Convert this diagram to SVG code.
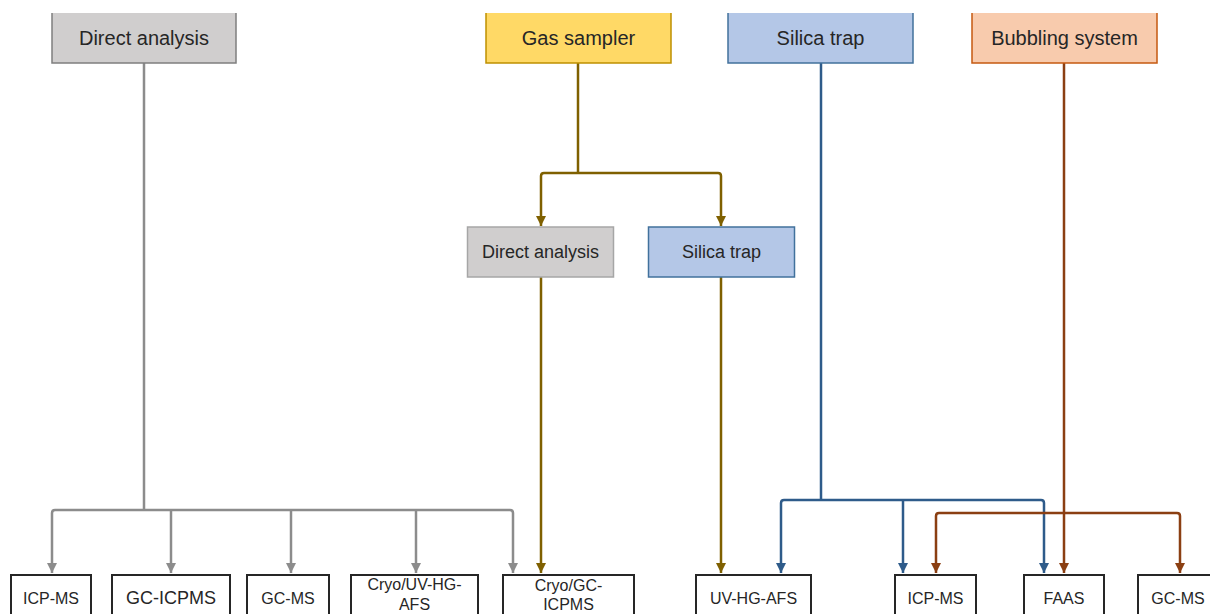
<svg xmlns="http://www.w3.org/2000/svg" width="1210" height="614" viewBox="0 0 1210 614">
<defs>
<style>
text{font-family:"Liberation Sans",Arial,sans-serif;fill:#262626;text-anchor:middle;dominant-baseline:central}
.t20{font-size:20px}.t18{font-size:18px}.t16{font-size:16px}
.c{fill:none;stroke-width:2.5;stroke-linejoin:round}
.gray{stroke:#8c8c8c}.gold{stroke:#7f6000}.blue{stroke:#2e5b8a}.brown{stroke:#8b3f12}
.out{fill:#fff;stroke:#262626;stroke-width:2}
</style>
<marker id="aGray" viewBox="0 0 10 10" refX="10" refY="5" markerWidth="10" markerHeight="11" markerUnits="userSpaceOnUse" orient="auto-start-reverse"><path d="M0,0L10,5L0,10z" fill="#8c8c8c"/></marker>
<marker id="aGold" viewBox="0 0 10 10" refX="10" refY="5" markerWidth="10" markerHeight="11" markerUnits="userSpaceOnUse" orient="auto-start-reverse"><path d="M0,0L10,5L0,10z" fill="#7f6000"/></marker>
<marker id="aBlue" viewBox="0 0 10 10" refX="10" refY="5" markerWidth="10" markerHeight="11" markerUnits="userSpaceOnUse" orient="auto-start-reverse"><path d="M0,0L10,5L0,10z" fill="#2e5b8a"/></marker>
<marker id="aBrown" viewBox="0 0 10 10" refX="10" refY="5" markerWidth="10" markerHeight="11" markerUnits="userSpaceOnUse" orient="auto-start-reverse"><path d="M0,0L10,5L0,10z" fill="#8b3f12"/></marker>
</defs>
<rect width="1210" height="614" fill="#fff"/>

<g id="connectors">
<path class="c gray" d="M144 63V510"/>
<path class="c gray" d="M52 573V513q0-3 3-3H510q3 0 3 3V573" marker-start="url(#aGray)" marker-end="url(#aGray)"/>
<path class="c gray" d="M171 510V573" marker-end="url(#aGray)"/>
<path class="c gray" d="M291 510V573" marker-end="url(#aGray)"/>
<path class="c gray" d="M416 510V573" marker-end="url(#aGray)"/>

<path class="c gold" d="M578 63V173"/>
<path class="c gold" d="M541 226V176q0-3 3-3H718q3 0 3 3V226" marker-start="url(#aGold)" marker-end="url(#aGold)"/>
<path class="c gold" d="M541 277V573" marker-end="url(#aGold)"/>
<path class="c gold" d="M721 277V573" marker-end="url(#aGold)"/>

<path class="c blue" d="M821 63V500"/>
<path class="c blue" d="M781 573V503q0-3 3-3H1041q3 0 3 3V573" marker-start="url(#aBlue)" marker-end="url(#aBlue)"/>
<path class="c blue" d="M903 500V573" marker-end="url(#aBlue)"/>

<path class="c brown" d="M1064 63V573" marker-end="url(#aBrown)"/>
<path class="c brown" d="M936 573V516q0-3 3-3H1177q3 0 3 3V573" marker-start="url(#aBrown)" marker-end="url(#aBrown)"/>
</g>

<g id="top-direct-analysis">
<rect x="52" y="13" width="184" height="50" fill="#d0cece"/>
<path d="M52 13V63H236V13" fill="none" stroke="#7f7f7f" stroke-width="1.5"/>
<text class="t20" x="144" y="38">Direct analysis</text>
</g>
<g id="top-gas-sampler">
<rect x="486" y="13" width="185" height="50" fill="#ffd966"/>
<path d="M486 13V63H671V13" fill="none" stroke="#bf9000" stroke-width="1.5"/>
<text class="t20" x="578.5" y="38">Gas sampler</text>
</g>
<g id="top-silica-trap">
<rect x="728" y="13" width="185" height="50" fill="#b4c7e7"/>
<path d="M728 13V63H913V13" fill="none" stroke="#41719c" stroke-width="1.5"/>
<text class="t20" x="820.5" y="38">Silica trap</text>
</g>
<g id="top-bubbling-system">
<rect x="972" y="13" width="185" height="50" fill="#f8cbad"/>
<path d="M972 13V63H1157V13" fill="none" stroke="#c55a11" stroke-width="1.5"/>
<text class="t20" x="1064.5" y="38">Bubbling system</text>
</g>

<g id="mid-direct-analysis">
<rect x="467.5" y="227" width="146" height="50" fill="#d0cece" stroke="#a6a6a6" stroke-width="1.5"/>
<text class="t18" x="540.5" y="252">Direct analysis</text>
</g>
<g id="mid-silica-trap">
<rect x="648.5" y="227" width="146" height="50" fill="#b4c7e7" stroke="#41719c" stroke-width="1.5"/>
<text class="t18" x="721.5" y="252">Silica trap</text>
</g>

<g id="b-icpms-1">
<rect class="out" x="11" y="575" width="80" height="50"/>
<text class="t16" x="51" y="598">ICP-MS</text>
</g>
<g id="b-gc-icpms">
<rect class="out" x="112" y="575" width="118" height="50"/>
<text class="t18" x="171" y="598">GC-ICPMS</text>
</g>
<g id="b-gcms-1">
<rect class="out" x="247" y="575" width="82" height="50"/>
<text class="t16" x="288" y="598">GC-MS</text>
</g>
<g id="b-cryo-uv">
<rect class="out" x="351" y="575" width="127" height="50"/>
<text class="t16" x="414.5" y="584">Cryo/UV-HG-</text>
<text class="t16" x="414.5" y="604">AFS</text>
</g>
<g id="b-cryo-gc">
<rect class="out" x="503" y="575" width="131" height="50"/>
<text class="t16" x="568.5" y="585">Cryo/GC-</text>
<text class="t16" x="568.5" y="604">ICPMS</text>
</g>
<g id="b-uv-hg-afs">
<rect class="out" x="696" y="575" width="115" height="50"/>
<text class="t16" x="753.5" y="598">UV-HG-AFS</text>
</g>
<g id="b-icpms-2">
<rect class="out" x="895" y="575" width="81" height="50"/>
<text class="t16" x="935.5" y="598">ICP-MS</text>
</g>
<g id="b-faas">
<rect class="out" x="1024" y="575" width="80" height="50"/>
<text class="t16" x="1064" y="598">FAAS</text>
</g>
<g id="b-gcms-2">
<rect class="out" x="1138" y="575" width="80" height="50"/>
<text class="t16" x="1178" y="598">GC-MS</text>
</g>
</svg>
